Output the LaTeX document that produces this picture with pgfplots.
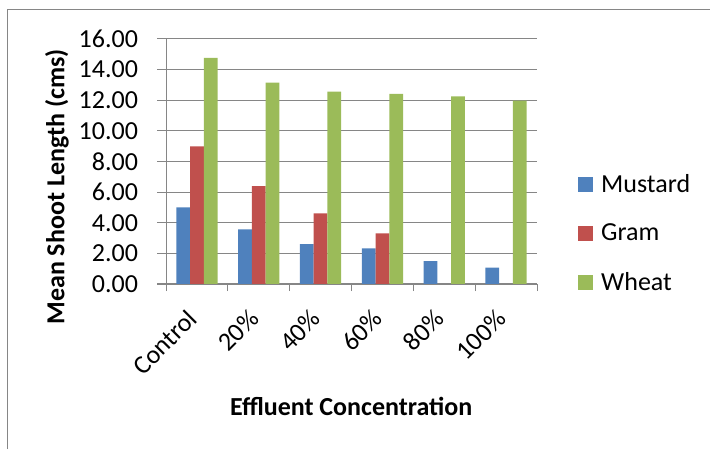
\documentclass[border=0pt]{standalone}
\usepackage{pgfplots}
\pgfplotsset{compat=1.18}
\usepackage{fontspec}
\setmainfont{Carlito}
\definecolor{mustard}{HTML}{4F81BD}
\definecolor{gram}{HTML}{C0504D}
\definecolor{wheat}{HTML}{9BBB59}
\definecolor{gridc}{HTML}{868686}
\pgfplotsset{legsq/.style={legend image code/.code={\fill[##1] (0pt,-3.75pt) rectangle (7.5pt,3.75pt);}}}
\begin{document}
\begin{tikzpicture}
\begin{axis}[
  at={(83pt,82.5pt)}, anchor=south west,
  width=185.5pt, height=122.5pt, scale only axis,
  ybar=0pt, bar width=0.222,
  xmin=-0.5, xmax=5.5, ymin=0, ymax=16,
  ytick={0,2,...,16},
  xtick={0,...,5}, xticklabels={Control,20\%,40\%,60\%,80\%,100\%},
  minor xtick={-0.5,0.5,...,5.5},
  major x tick style={draw=none},
  tick align=outside,
  major tick length=4.5pt, minor tick length=3.5pt,
  axis x line*=bottom, axis y line*=left,
  axis line style={gridc, line width=0.5pt, -},
  tick style={gridc, line width=0.5pt},
  ymajorgrids, grid style={gridc, line width=0.5pt},
  /pgf/number format/assume math mode=true,
  yticklabel style={/pgf/number format/fixed, /pgf/number format/fixed zerofill, /pgf/number format/precision=2, xshift=-6pt},
  tick label style={font=\fontsize{13}{15}\selectfont, text=black},
  xticklabel style={rotate=45, anchor=north east, xshift=-5.7pt, yshift=2.1pt},
  label style={font=\bfseries\fontsize{13}{15}\selectfont},
  xlabel={Effluent Concentration},
  ylabel={Mean Shoot Length (cms)},
  xlabel style={at={(axis description cs:0.499,-0.498)}, anchor=center},
  every axis y label/.style={at={(axis description cs:-0.294,0.396)}, rotate=90, anchor=center, font=\bfseries\fontsize{13}{15}\selectfont},
  legend style={at={(axis description cs:1.11,0.206)}, anchor=west, draw=none, fill=none,
    font=\fontsize{13}{15}\selectfont, row sep=11.25pt, inner sep=0pt, nodes={inner sep=1.5pt},
    /tikz/every odd column/.append style={column sep=2.5pt}},
  legend cell align=left,
]
\addplot[fill=mustard, draw=none, legsq] coordinates {(0,5.00) (1,3.57) (2,2.61) (3,2.33) (4,1.50) (5,1.07)};
\addplot[fill=gram, draw=none, legsq] coordinates {(0,8.98) (1,6.39) (2,4.61) (3,3.30)};
\addplot[fill=wheat, draw=none, legsq] coordinates {(0,14.76) (1,13.15) (2,12.57) (3,12.41) (4,12.26) (5,11.98)};
\legend{Mustard,Gram,Wheat}
\end{axis}
\draw[gridc, line width=0.5pt] (3.5pt,0pt) -- (3.5pt,219.85pt) -- (355pt,219.85pt);
\pgfresetboundingbox
\useasboundingbox (0,0) rectangle (355pt,224.5pt);
\end{tikzpicture}
\end{document}
